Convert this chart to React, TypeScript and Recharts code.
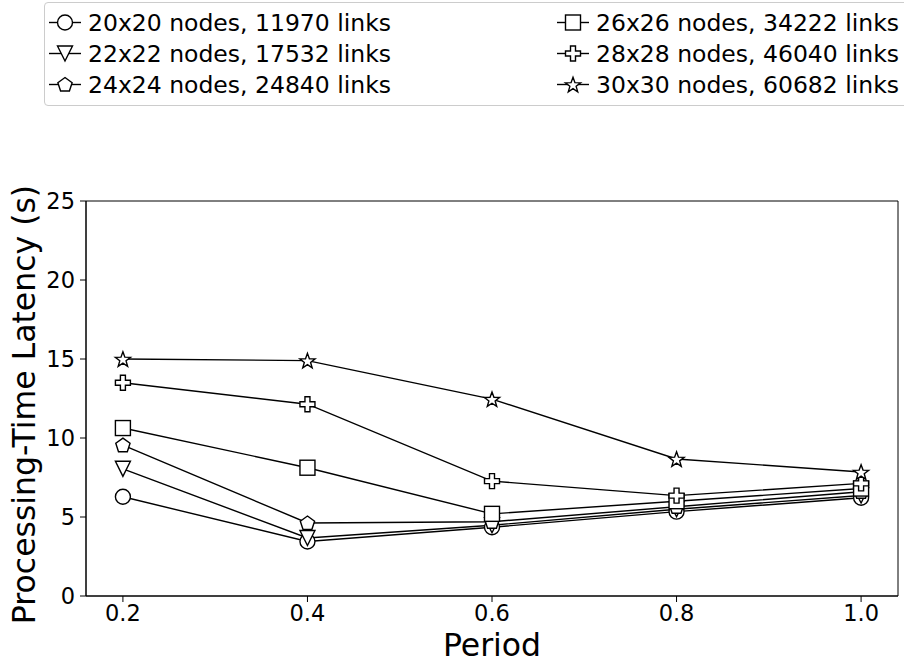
import React from 'react';
import {
  LineChart,
  Line,
  XAxis,
  YAxis,
  Legend,
  ReferenceArea,
} from 'recharts';

const FONT = '"DejaVu Sans", "Liberation Sans", sans-serif';

const periods = [0.2, 0.4, 0.6, 0.8, 1.0];

// latency (s) per period for each grid size
const lat20 = [6.28, 3.45, 4.35, 5.34, 6.22];
const lat22 = [8.05, 3.67, 4.48, 5.49, 6.36];
const lat24 = [9.55, 4.62, 4.7, 5.65, 6.6];
const lat26 = [10.63, 8.12, 5.2, 6.0, 6.8];
const lat28 = [13.5, 12.14, 7.27, 6.35, 7.13];
const lat30 = [15.0, 14.9, 12.46, 8.67, 7.85];

const xTicks = [0.2, 0.4, 0.6, 0.8, 1.0];
const yTicks = [0, 5, 10, 15, 20, 25];

type Shape = 'circle' | 'triangleDown' | 'pentagon' | 'square' | 'plus' | 'star';

const SERIES: { key: string; name: string; values: number[]; shape: Shape }[] = [
  { key: 'n20', name: '20x20 nodes, 11970 links', values: lat20, shape: 'circle' },
  { key: 'n22', name: '22x22 nodes, 17532 links', values: lat22, shape: 'triangleDown' },
  { key: 'n24', name: '24x24 nodes, 24840 links', values: lat24, shape: 'pentagon' },
  { key: 'n26', name: '26x26 nodes, 34222 links', values: lat26, shape: 'square' },
  { key: 'n28', name: '28x28 nodes, 46040 links', values: lat28, shape: 'plus' },
  { key: 'n30', name: '30x30 nodes, 60682 links', values: lat30, shape: 'star' },
];

const data = periods.map((p, i) => {
  const row: Record<string, number> = { period: p };
  SERIES.forEach((s) => {
    row[s.key] = s.values[i];
  });
  return row;
});

function polyPoints(pts: [number, number][]) {
  return pts.map(([x, y]) => `${x},${y}`).join(' ');
}

function Marker({ shape, cx, cy }: { shape: Shape; cx: number; cy: number }) {
  const common = { fill: '#fff', stroke: '#000', strokeWidth: 1.4 };
  const r = 7.5;
  switch (shape) {
    case 'circle':
      return <circle cx={cx} cy={cy} r={r} {...common} />;
    case 'triangleDown':
      return (
        <polygon
          points={polyPoints([
            [cx - r, cy - r],
            [cx + r, cy - r],
            [cx, cy + r],
          ])}
          {...common}
        />
      );
    case 'pentagon': {
      const pts: [number, number][] = [];
      for (let k = 0; k < 5; k++) {
        const a = -Math.PI / 2 + (k * 2 * Math.PI) / 5;
        pts.push([cx + r * Math.cos(a), cy + r * Math.sin(a) + 0.5]);
      }
      return <polygon points={polyPoints(pts)} {...common} />;
    }
    case 'square':
      return <rect x={cx - r} y={cy - r} width={2 * r} height={2 * r} {...common} />;
    case 'plus': {
      const a = r;
      const b = r / 3;
      return (
        <polygon
          points={polyPoints([
            [cx - b, cy - a],
            [cx + b, cy - a],
            [cx + b, cy - b],
            [cx + a, cy - b],
            [cx + a, cy + b],
            [cx + b, cy + b],
            [cx + b, cy + a],
            [cx - b, cy + a],
            [cx - b, cy + b],
            [cx - a, cy + b],
            [cx - a, cy - b],
            [cx - b, cy - b],
          ])}
          {...common}
        />
      );
    }
    case 'star': {
      const pts: [number, number][] = [];
      const outer = 8;
      const inner = 3.3;
      for (let k = 0; k < 10; k++) {
        const rad = k % 2 === 0 ? outer : inner;
        const a = -Math.PI / 2 + (k * Math.PI) / 5;
        pts.push([cx + rad * Math.cos(a), cy + rad * Math.sin(a) + 0.8]);
      }
      return <polygon points={polyPoints(pts)} {...common} />;
    }
  }
  return null;
}

const dotFor = (shape: Shape) => (props: any) => {
  const { cx, cy, index } = props;
  return <Marker key={`${shape}-${index}`} shape={shape} cx={cx} cy={cy} />;
};

function LegendBox() {
  const rowH = 31;
  const cols = [SERIES.slice(0, 3), SERIES.slice(3)];
  const colX = [0, 508];
  return (
    <div
      style={{
        position: 'relative',
        width: 880,
        height: 104,
        border: '1px solid #cccccc',
        borderRadius: 4,
        boxSizing: 'border-box',
        background: '#fff',
        fontFamily: FONT,
        fontSize: 23.5,
        color: '#000',
      }}
    >
      {cols.map((col, ci) =>
        col.map((s, ri) => (
          <div
            key={s.key}
            style={{
              position: 'absolute',
              left: colX[ci] + 3,
              top: 4 + ri * rowH,
              height: rowH,
              display: 'flex',
              alignItems: 'center',
              whiteSpace: 'nowrap',
            }}
          >
            <svg width={34} height={rowH} style={{ marginRight: 6 }}>
              <line x1={1} x2={33} y1={rowH / 2} y2={rowH / 2} stroke="#000" strokeWidth={1.4} />
              <Marker shape={s.shape} cx={17} cy={rowH / 2} />
            </svg>
            <span>{s.name}</span>
          </div>
        )),
      )}
    </div>
  );
}

export default function App() {
  return (
    <div
      style={{
        position: 'absolute',
        left: 0,
        top: 0,
        width: 904,
        height: 667,
        overflow: 'hidden',
        background: '#fff',
      }}
    >
      <LineChart
        width={904}
        height={667}
        data={data}
        margin={{ top: 201, right: 6, bottom: 0, left: 0 }}
      >
        <XAxis
          dataKey="period"
          type="number"
          domain={[0.16, 1.04]}
          ticks={xTicks}
          tickFormatter={(v: number) => v.toFixed(1)}
          height={71}
          tickSize={6}
          tickMargin={3}
          axisLine={{ stroke: '#000', strokeWidth: 1 }}
          tickLine={{ stroke: '#000' }}
          tick={{ fill: '#000', fontSize: 22.5, fontFamily: FONT }}
          label={{
            content: ({ viewBox }: any) => (
              <text
                x={viewBox.x + viewBox.width / 2}
                y={viewBox.y + 60}
                textAnchor="middle"
                fontSize={31.5}
                fontFamily={FONT}
                fill="#000"
              >
                Period
              </text>
            ),
          }}
        />
        <YAxis
          type="number"
          domain={[0, 25]}
          ticks={yTicks}
          width={86}
          tickSize={6}
          tickMargin={5}
          axisLine={{ stroke: '#000', strokeWidth: 1 }}
          tickLine={{ stroke: '#000' }}
          tick={{ fill: '#000', fontSize: 22.5, fontFamily: FONT }}
          label={{
            content: ({ viewBox }: any) => {
              const x = viewBox.x + 35;
              const y = viewBox.y + viewBox.height / 2 + 6;
              return (
                <text
                  x={x}
                  y={y}
                  transform={`rotate(-90, ${x}, ${y})`}
                  textAnchor="middle"
                  fontSize={31.5}
                  fontFamily={FONT}
                  fill="#000"
                >
                  Processing-Time Latency (s)
                </text>
              );
            },
          }}
        />
        <ReferenceArea
          x1={0.16}
          x2={1.04}
          y1={0}
          y2={25}
          fill="none"
          stroke="#000"
          strokeWidth={1}
          ifOverflow="visible"
        />
        <Legend
          layout="vertical"
          align="center"
          verticalAlign="middle"
          wrapperStyle={{ top: 2, left: 44, width: 880 }}
          content={() => <LegendBox />}
        />
        {SERIES.map((s) => (
          <Line
            key={s.key}
            type="linear"
            dataKey={s.key}
            name={s.name}
            stroke="#000"
            strokeWidth={1.4}
            dot={dotFor(s.shape)}
            activeDot={false}
            isAnimationActive={false}
          />
        ))}
      </LineChart>
    </div>
  );
}
